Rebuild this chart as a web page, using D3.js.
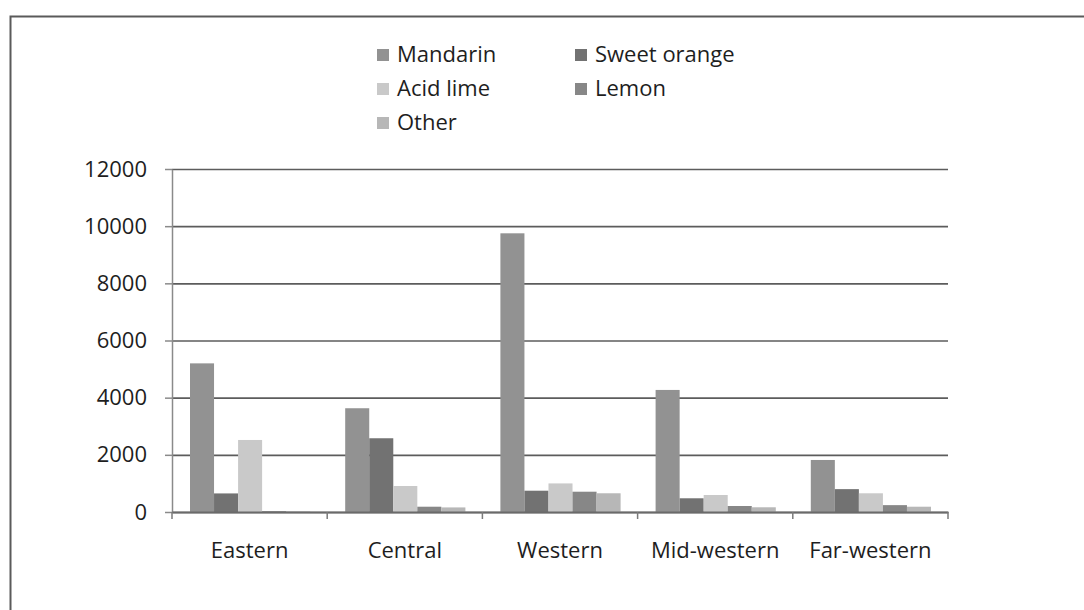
<!DOCTYPE html>
<html>
<head>
<meta charset="utf-8">
<script src="https://cdn.jsdelivr.net/npm/d3@7"></script>
<style>
  body { margin: 0; background: #ffffff; }
  text { font-family: "Open Sans", sans-serif; fill: #1e1e1e; }
</style>
</head>
<body>
<div id="my_dataviz"></div>
<script>
// regions on the x axis
let regions = ["Eastern", "Central", "Western", "Mid-western", "Far-western"]
let series = ["Mandarin", "Sweet orange", "Acid lime", "Lemon", "Other"]

// values per series, one per region
let mandarin    = [5200, 3630, 9750, 4270, 1820]
let sweetOrange = [650, 2580, 745, 480, 800]
let acidLime    = [2520, 910, 1000, 595, 655]
let lemon       = [30, 185, 710, 210, 240]
let other       = [20, 160, 655, 165, 185]

let yTicks = [0, 2000, 4000, 6000, 8000, 10000, 12000]

let colors = ["#929292", "#727272", "#c9c9c9", "#878787", "#b7b7b7"]

// build table from the arrays
let seriesValues = [mandarin, sweetOrange, acidLime, lemon, other]
let data = regions.map(function(r, i) {
    let row = {region: r}
    series.forEach(function(s, j) { row[s] = seriesValues[j][i] })
    return row
})

let W = 1084, H = 610
let margin = {top: 169, left: 172}
let width = 776, height = 343

let svg = d3.select("#my_dataviz")
    .append("svg")
    .attr("width", W)
    .attr("height", H)

// outer frame of the scanned chart
svg.append("rect")
    .attr("x", 10.5)
    .attr("y", 16.5)
    .attr("width", 1090)
    .attr("height", 620)
    .style("fill", "none")
    .style("stroke", "#5a5a5a")
    .style("stroke-width", 2)

let g = svg.append("g")
    .attr("transform", "translate(" + margin.left + "," + margin.top + ")")

let x0 = d3.scaleBand()
    .domain(regions)
    .range([0, width])
    .padding(0)

let x1 = d3.scaleBand()
    .domain(series)
    .range([18, x0.bandwidth() - 17])
    .padding(0)

let y = d3.scaleLinear()
    .domain([0, 12000])
    .range([height, 0])

let color = d3.scaleOrdinal()
    .domain(series)
    .range(colors)

// gridlines
let grid = g.append("g")
    .call(d3.axisLeft(y).tickValues(yTicks).tickSize(-width).tickFormat(""))
grid.select(".domain").remove()
grid.selectAll("line")
    .style("stroke", "#5c5c5c")
    .style("stroke-width", 1.6)

// y axis
let yAxis = g.append("g")
    .call(d3.axisLeft(y).tickValues(yTicks).tickSize(7).tickPadding(18).tickSizeOuter(0).tickFormat(d3.format("d")))
yAxis.select(".domain").style("stroke", "#8a8a8a").style("stroke-width", 1.5)
yAxis.selectAll("line").style("stroke", "#8a8a8a").style("stroke-width", 1.5)
yAxis.selectAll("text")
    .style("font-size", "22px")
    .style("font-family", "Open Sans, sans-serif")
    .style("fill", "#1e1e1e")

// bars
g.append("g")
    .selectAll("g")
    .data(data)
    .enter()
    .append("g")
    .attr("transform", function(d) { return "translate(" + x0(d.region) + ",0)" })
    .selectAll("rect")
    .data(function(d) { return series.map(function(s) { return {key: s, value: d[s]} }) })
    .enter()
    .append("rect")
    .attr("x", function(d) { return x1(d.key) })
    .attr("y", function(d) { return y(d.value) })
    .attr("width", x1.bandwidth())
    .attr("height", function(d) { return height - y(d.value) })
    .style("fill", function(d) { return color(d.key) })

// x axis
let xAxis = g.append("g")
    .attr("transform", "translate(0," + height + ")")
    .call(d3.axisBottom(x0).tickSize(0).tickPadding(30))
xAxis.select(".domain").style("stroke", "#6a6a6a").style("stroke-width", 2)
xAxis.selectAll("text")
    .style("font-size", "22px")
    .style("font-family", "Open Sans, sans-serif")
    .style("fill", "#1e1e1e")

// tick marks between the regions
g.append("g")
    .selectAll("line")
    .data(regions.concat(["end"]))
    .enter()
    .append("line")
    .attr("x1", function(d, i) { return i * x0.bandwidth() })
    .attr("x2", function(d, i) { return i * x0.bandwidth() })
    .attr("y1", height)
    .attr("y2", height + 7)
    .style("stroke", "#7a7a7a")
    .style("stroke-width", 1.5)

// legend
let legend = svg.append("g")
let legendX = [377, 575]
let legendY = [49, 83, 117]
series.forEach(function(s, i) {
    let lx = legendX[i % 2]
    let ly = legendY[Math.floor(i / 2)]
    legend.append("rect")
        .attr("x", lx)
        .attr("y", ly)
        .attr("width", 12)
        .attr("height", 12)
        .style("fill", color(s))
    legend.append("text")
        .attr("x", lx + 20)
        .attr("y", ly + 13)
        .text(s)
        .style("font-size", "22px")
})
</script>
</body>
</html>
